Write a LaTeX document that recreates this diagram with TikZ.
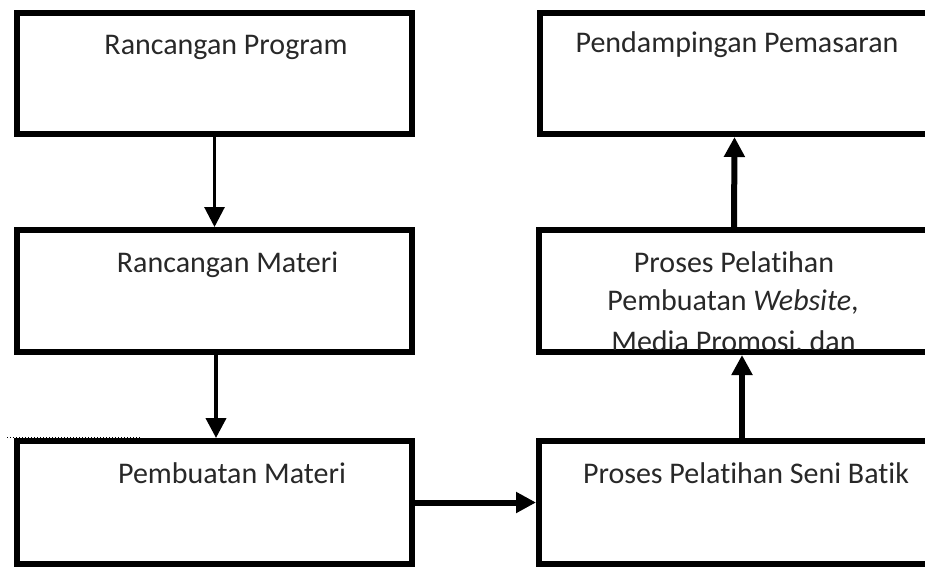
\documentclass[tikz,border=0pt]{standalone}
\usepackage{fontspec}
\setmainfont{Carlito}[Ligatures=NoCommon]
\usetikzlibrary{arrows.meta}
\definecolor{txt}{RGB}{40,40,40}
\begin{document}
\begin{tikzpicture}[x=1pt,y=-1pt,
  box/.style={draw=black,line width=6pt,inner sep=0pt,minimum width=#1,minimum height=122pt},
  lbl/.style={anchor=base,inner sep=0pt,text=txt,font=\fontsize{30}{36}\selectfont},
  flow/.style={draw=black,-{Triangle[length=20pt,width=20pt]}}]
\useasboundingbox (0,0) rectangle (925,567);
\clip (0,0) rectangle (925,567);
% boxes
\node[box=395pt,minimum height=121pt] (b1) at (214.5,73.5) {};
\node[box=395pt] (b2) at (214.5,291) {};
\node[box=395pt,minimum height=123pt] (b3) at (214.5,502.5) {};
\node[box=406pt,minimum height=121pt] (b4) at (742.5,73.5) {};
\node[box=406pt] (b5) at (742,291) {};
\node[box=406pt,minimum height=123pt] (b6) at (742,502.5) {};
% texts
\node[lbl] (t1) at (226,55) {Rancangan Program};
\node[lbl] (t2) at (227.5,272) {Rancangan Materi};
\node[lbl] (t3) at (232,483) {Pembuatan Materi};
\node[lbl] (t4) at (737,53) {Pendampingan Pemasaran};
\node[lbl] (t6) at (746,483) {Proses Pelatihan Seni Batik};
\begin{scope}
\clip (539,233) rectangle (925,349);
\node[lbl] (t5a) at (734,272) {Proses Pelatihan};
\node[lbl] (t5b) at (733,310) {Pembuatan \textit{Website},};
\node[lbl] (t5c) at (733.5,351) {Media Promosi, dan};
\end{scope}
% connectors
\draw[flow,line width=3pt] (b1.south) -- (b2.north);
\draw[flow,line width=4pt] ([xshift=1.5pt]b2.south) -- ([xshift=1.5pt]b3.north);
\draw[flow,line width=6pt] (b3.east) -- (b6.west);
\draw[flow,line width=6pt] (b6.north) -- (b5.south);
\draw[flow,line width=6pt] ([xshift=-8pt]b5.north) -- ([xshift=-8pt]b4.south);
% stray dotted mark
\draw[dotted,line width=1pt] (7,437) -- (140,437);
\end{tikzpicture}
\end{document}
